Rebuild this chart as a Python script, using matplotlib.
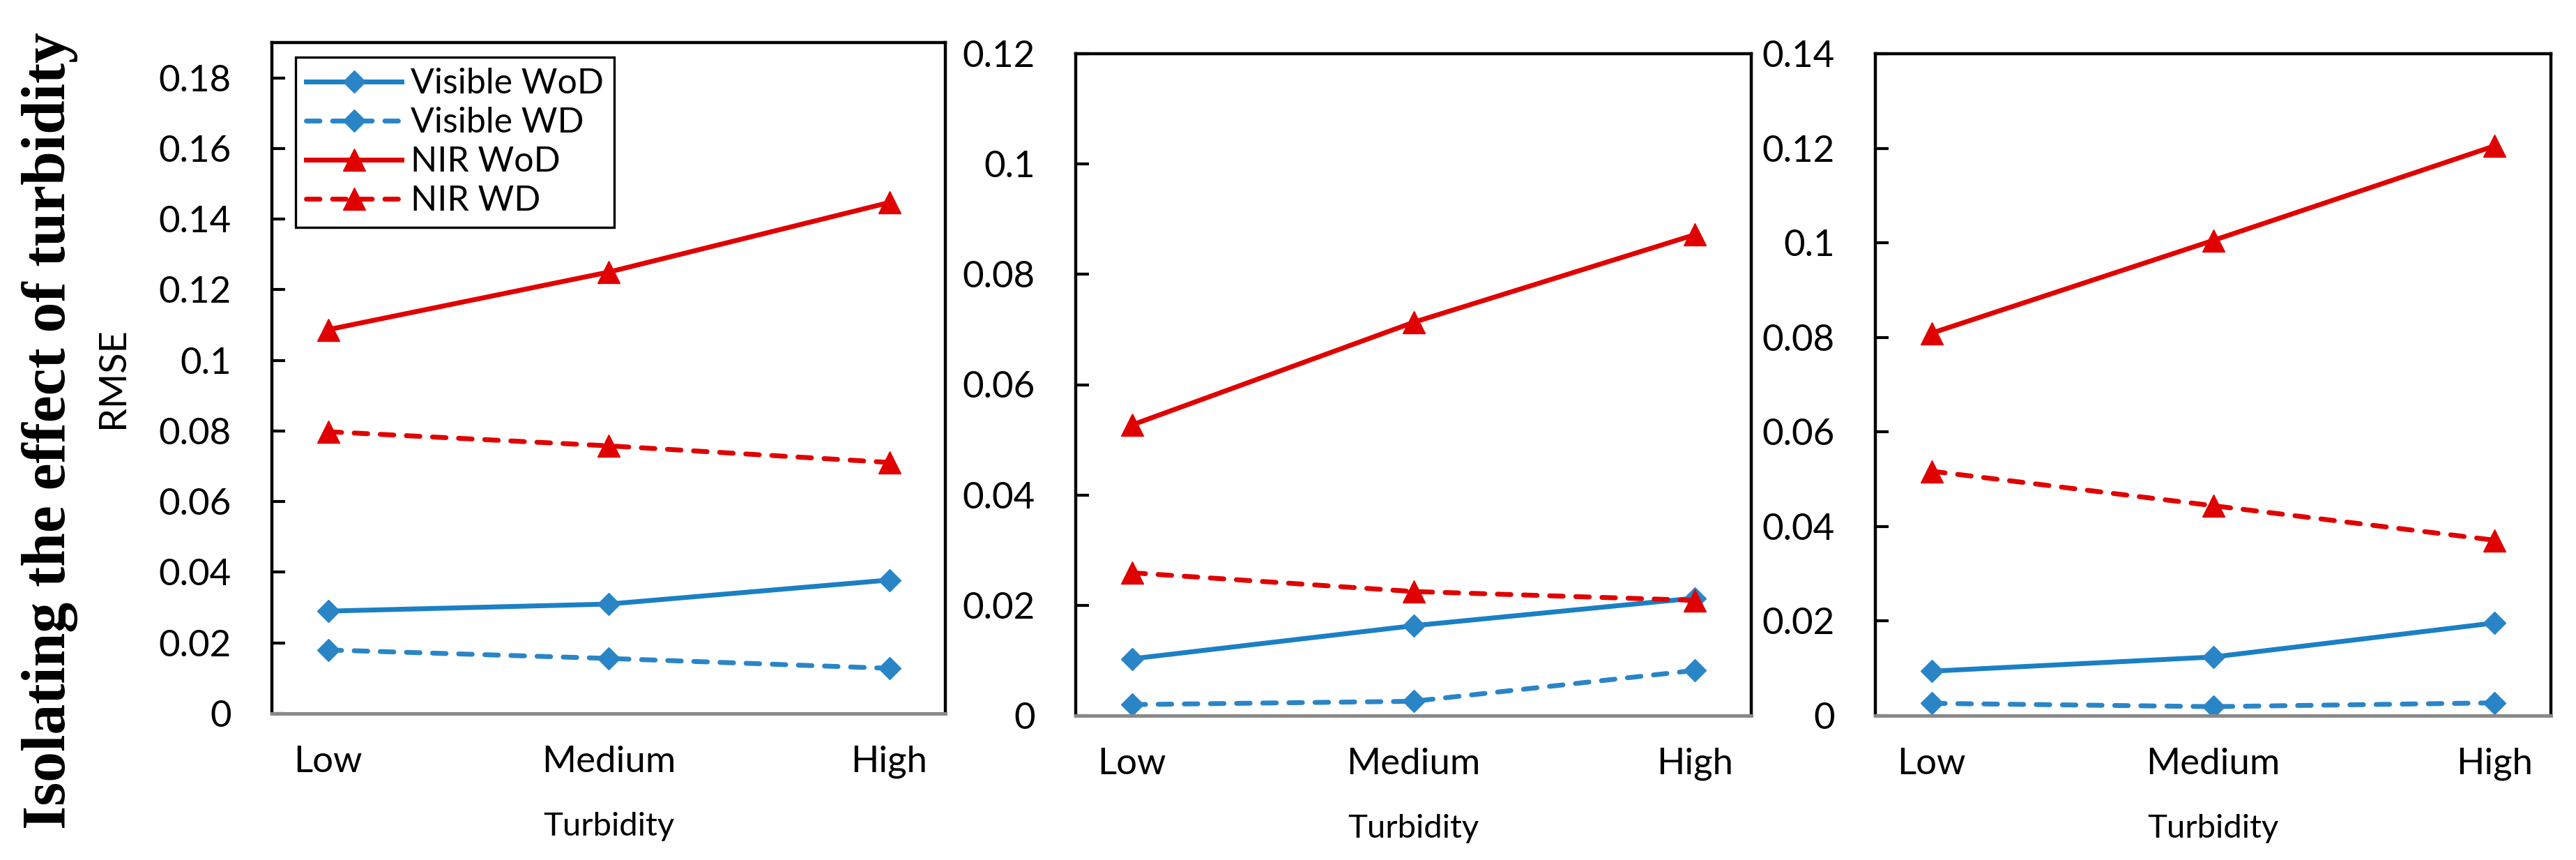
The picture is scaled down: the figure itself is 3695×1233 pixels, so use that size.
import numpy as np
import matplotlib
matplotlib.use('Agg')
import matplotlib.pyplot as plt
from matplotlib.ticker import FuncFormatter, MultipleLocator

plt.rcParams['font.family'] = ['Lato', 'DejaVu Sans']

# values
turbidity = ['Low', 'Medium', 'High']
series_names = ['Visible WoD', 'Visible WD', 'NIR WoD', 'NIR WD']

panel1 = {
    'Visible WoD': [0.0290, 0.0310, 0.0378],
    'Visible WD': [0.0180, 0.0156, 0.0128],
    'NIR WoD': [0.1087, 0.1250, 0.1447],
    'NIR WD': [0.0798, 0.0758, 0.0711],
}
panel2 = {
    'Visible WoD': [0.0103, 0.0163, 0.0213],
    'Visible WD': [0.0020, 0.0026, 0.0082],
    'NIR WoD': [0.0527, 0.0713, 0.0872],
    'NIR WD': [0.0259, 0.0225, 0.0209],
}
panel3 = {
    'Visible WoD': [0.0094, 0.0124, 0.0196],
    'Visible WD': [0.0026, 0.0019, 0.0027],
    'NIR WoD': [0.0809, 0.1005, 0.1205],
    'NIR WD': [0.0517, 0.0444, 0.0371],
}
y_max = [0.19, 0.12, 0.14]

blue_line = '#1b80c3'
blue_mark = '#2a85c7'
red = '#e00000'
styles = {
    'Visible WoD': dict(color=blue_line, mfc=blue_mark, mec=blue_mark, marker='D', ms=16.5, ls='-'),
    'Visible WD': dict(color=blue_mark, mfc=blue_mark, mec=blue_mark, marker='D', ms=16.5, ls='--'),
    'NIR WoD': dict(color=red, mfc=red, mec=red, marker='^', ms=23, ls='-'),
    'NIR WD': dict(color=red, mfc=red, mec=red, marker='^', ms=23, ls='--'),
}

W, H = 3695, 1233
fig = plt.figure(figsize=(W / 100, H / 100), dpi=100)

boxes = [(390, 61, 1356, 1023), (1543, 77, 2512, 1026), (2690, 77, 3659, 1026)]
fmt = FuncFormatter(lambda v, p: '%g' % round(v, 4))
x = np.arange(len(turbidity))

axes = []
for (l, t, r, b), data, top in zip(boxes, [panel1, panel2, panel3], y_max):
    ax = fig.add_axes([l / W, 1 - b / H, (r - l) / W, (b - t) / H])
    for name in series_names:
        st = styles[name]
        line, = ax.plot(x, data[name], lw=5.0, mew=1, label=name, **st)
        if st['ls'] == '--':
            line.set_dashes([2.8, 2.6])
            line.set_dash_capstyle('round')
    ax.set_xlim(-0.2, 2.2)
    ax.set_ylim(0, top)
    ax.yaxis.set_major_locator(MultipleLocator(0.02))
    ax.yaxis.set_major_formatter(fmt)
    ax.set_xticks(x)
    ax.set_xticklabels(turbidity)
    ax.tick_params(axis='y', direction='in', length=14, width=3, pad=42, labelsize=38)
    ax.tick_params(axis='x', length=0, pad=33, labelsize=38)
    for side in ['left', 'top', 'right']:
        ax.spines[side].set_linewidth(3.2)
        ax.spines[side].set_color('black')
    ax.spines['bottom'].set_linewidth(3.6)
    ax.spines['bottom'].set_color('#898989')
    ax.set_xlabel('Turbidity', fontsize=34, labelpad=34)
    axes.append(ax)

axes[0].set_ylabel('RMSE', fontsize=39, labelpad=30)

leg = axes[0].legend(loc='upper left', bbox_to_anchor=(424 / W, 1 - 82 / H),
                     bbox_transform=fig.transFigure, fontsize=36, frameon=True,
                     fancybox=False, framealpha=1, edgecolor='black',
                     handlelength=2.74, handletextpad=0.26, labelspacing=0.2,
                     borderpad=0.3, borderaxespad=0, numpoints=1)
leg.get_frame().set_linewidth(2.4)

fig.text(72 / W, 1 - 618 / H, 'Isolating the effect of turbidity', rotation=90,
         ha='center', va='center', fontsize=63, fontweight='bold',
         family=['Liberation Serif', 'DejaVu Serif'])

fig.savefig('out.png', dpi=100, facecolor='white')
